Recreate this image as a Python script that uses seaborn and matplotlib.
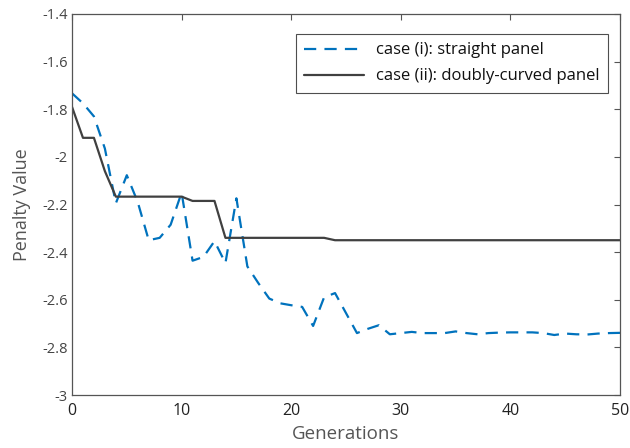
import matplotlib
matplotlib.use("Agg")
import matplotlib.pyplot as plt
import seaborn as sns
import numpy as np
import pandas as pd

# Penalty value per generation for the two panel cases
generations = list(range(51))
straight_panel = [
    -1.733, -1.775, -1.83, -1.965, -2.195, -2.077, -2.19, -2.35, -2.34, -2.285,
    -2.15, -2.436, -2.42, -2.354, -2.446, -2.174, -2.46, -2.53, -2.595, -2.615,
    -2.623, -2.63, -2.71, -2.59, -2.572, -2.656, -2.74, -2.722, -2.707, -2.745,
    -2.74, -2.735, -2.74, -2.74, -2.74, -2.733, -2.74, -2.745, -2.74, -2.738,
    -2.737, -2.737, -2.737, -2.74, -2.748, -2.742, -2.745, -2.746, -2.742, -2.74,
    -2.739,
]
curved_panel = (
    [-1.79, -1.92, -1.92, -2.06]
    + [-2.167] * 7          # generations 4-10
    + [-2.185] * 3          # generations 11-13
    + [-2.34] * 10          # generations 14-23
    + [-2.35] * 27          # generations 24-50
)

series_labels = ["case (i): straight panel", "case (ii): doubly-curved panel"]
x_ticks = [0, 10, 20, 30, 40, 50]
y_ticks = [-3, -2.8, -2.6, -2.4, -2.2, -2, -1.8, -1.6, -1.4]
y_tick_labels = ["-3", "-2.8", "-2.6", "-2.4", "-2.2", "-2", "-1.8", "-1.6", "-1.4"]

df = pd.DataFrame({
    "Generations": generations * 2,
    "Penalty Value": straight_panel + curved_panel,
    "case": [series_labels[0]] * len(generations) + [series_labels[1]] * len(generations),
})

sns.set_theme(style="white")
plt.rcParams["font.family"] = ["Open Sans", "DejaVu Sans"]

fig = plt.figure(figsize=(6.3, 4.48), dpi=100)
ax = fig.add_axes([72 / 630, 53 / 448, 548 / 630, 381 / 448])

blue = "#0072BD"
dark = "#404040"

sns.lineplot(
    data=df[df["case"] == series_labels[0]], x="Generations", y="Penalty Value",
    color=blue, linewidth=1.6, linestyle=(0, (5.5, 3.7)), label=series_labels[0], ax=ax,
)
sns.lineplot(
    data=df[df["case"] == series_labels[1]], x="Generations", y="Penalty Value",
    color=dark, linewidth=1.6, label=series_labels[1], ax=ax,
)

ax.set_xlim(0, 50)
ax.set_ylim(-3, -1.4)
ax.set_xticks(x_ticks)
ax.set_yticks(y_ticks)
ax.set_yticklabels(y_tick_labels)

for side in ["top", "right", "bottom", "left"]:
    ax.spines[side].set_visible(True)
    ax.spines[side].set_color("#555555")
    ax.spines[side].set_linewidth(0.9)

ax.tick_params(axis="both", direction="in", length=4, width=0.8, color="#555555",
               top=True, right=True, labeltop=False, labelright=False)
ax.tick_params(axis="x", labelcolor="#222222", labelsize=11.5, pad=6)
ax.tick_params(axis="y", labelcolor="#444444", labelsize=10.5, pad=3)

ax.set_xlabel("Generations", fontsize=13.5, color="#555555", labelpad=4)
ax.set_ylabel("Penalty Value", fontsize=13, color="#555555", labelpad=8)

leg = ax.legend(
    loc="upper right", bbox_to_anchor=(0.978, 0.9475), borderaxespad=0,
    fontsize=12, frameon=True, fancybox=False, handlelength=3.6,
    handletextpad=0.7, labelspacing=0.6, borderpad=0.5,
)
leg.get_frame().set_edgecolor("#222222")
leg.get_frame().set_linewidth(0.8)
for t in leg.get_texts():
    t.set_color("#111111")

fig.savefig("out.png", dpi=100)
